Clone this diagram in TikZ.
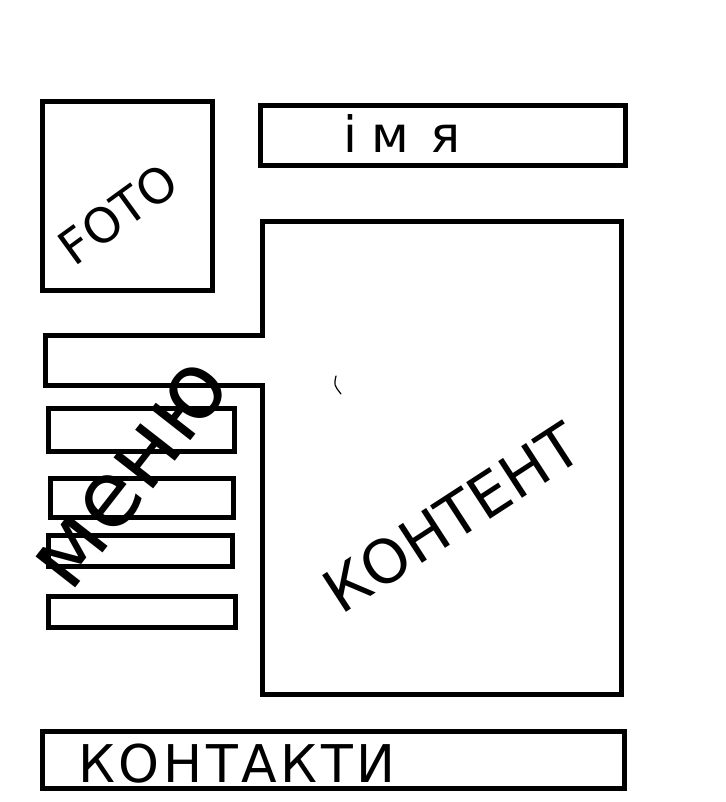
\documentclass[tikz,border=0pt]{standalone}
\usepackage{fontspec}
\setmainfont{DejaVu Sans}
\tikzset{
  box/.style={draw=black, line width=5pt, inner sep=0pt, line join=miter},
  lbl/.style={inner sep=0pt, text=black},
  scribble/.style={draw=black, line width=1.2pt, line cap=round}
}
\begin{document}
\begin{tikzpicture}[x=1pt,y=-1pt]
\useasboundingbox (0,0) rectangle (725,802);
\fill[white] (0,0) rectangle (725,802);
% boxes
\node[box, minimum width=170pt, minimum height=188pt] (photo) at (127,196) {};
\node[box, minimum width=365pt, minimum height=60pt] (name) at (442.5,136) {};
\node[box, minimum width=186pt, minimum height=43pt] (menuA) at (141,429.5) {};
\node[box, minimum width=183pt, minimum height=39pt] (menuB) at (141.5,497.5) {};
\node[box, minimum width=184pt, minimum height=31pt] (menuC) at (140,550.5) {};
\node[box, minimum width=187pt, minimum height=31pt] (menuD) at (141.5,611.5) {};
\node[box, minimum width=582pt, minimum height=57pt] (contacts) at (333,759.5) {};
% content area with menu tab
\coordinate (c1) at (262,222);
\coordinate (c2) at (621,222);
\coordinate (c3) at (621,694);
\coordinate (c4) at (262,694);
\coordinate (c5) at (262,385);
\coordinate (c6) at (45,385);
\coordinate (c7) at (45,335);
\coordinate (c8) at (262,335);
\draw[box] (c1) -- (c2) -- (c3) -- (c4) -- (c5) -- (c6) -- (c7) -- (c8) -- cycle;
% texts
\node[lbl, rotate=36, font=\fontsize{48}{48}\selectfont] (fototxt) at (118,214) {FOTO};
\node[lbl, font=\fontsize{50}{50}\selectfont, anchor=base] (nametxt) at (402,153) {і\hspace{14pt}м\hspace{22pt}я};
\node[lbl, rotate=33, font=\fontsize{60}{60}\selectfont] (contenttxt) at (452,518) {КОНТЕНТ};
\node[lbl, rotate=52, font=\fontsize{92}{92}\selectfont] (menutxt) at (132,475) {меню};
\node[lbl, font=\fontsize{52}{52}\selectfont\addfontfeature{LetterSpace=7}, anchor=west] (contacttxt) at (78,764) {КОНТАКТИ};
% stray tick in content area
\coordinate (t1) at (336,376);
\coordinate (t2) at (341,394);
\draw[scribble] (t1) .. controls (334,385) .. (t2);
\end{tikzpicture}
\end{document}
